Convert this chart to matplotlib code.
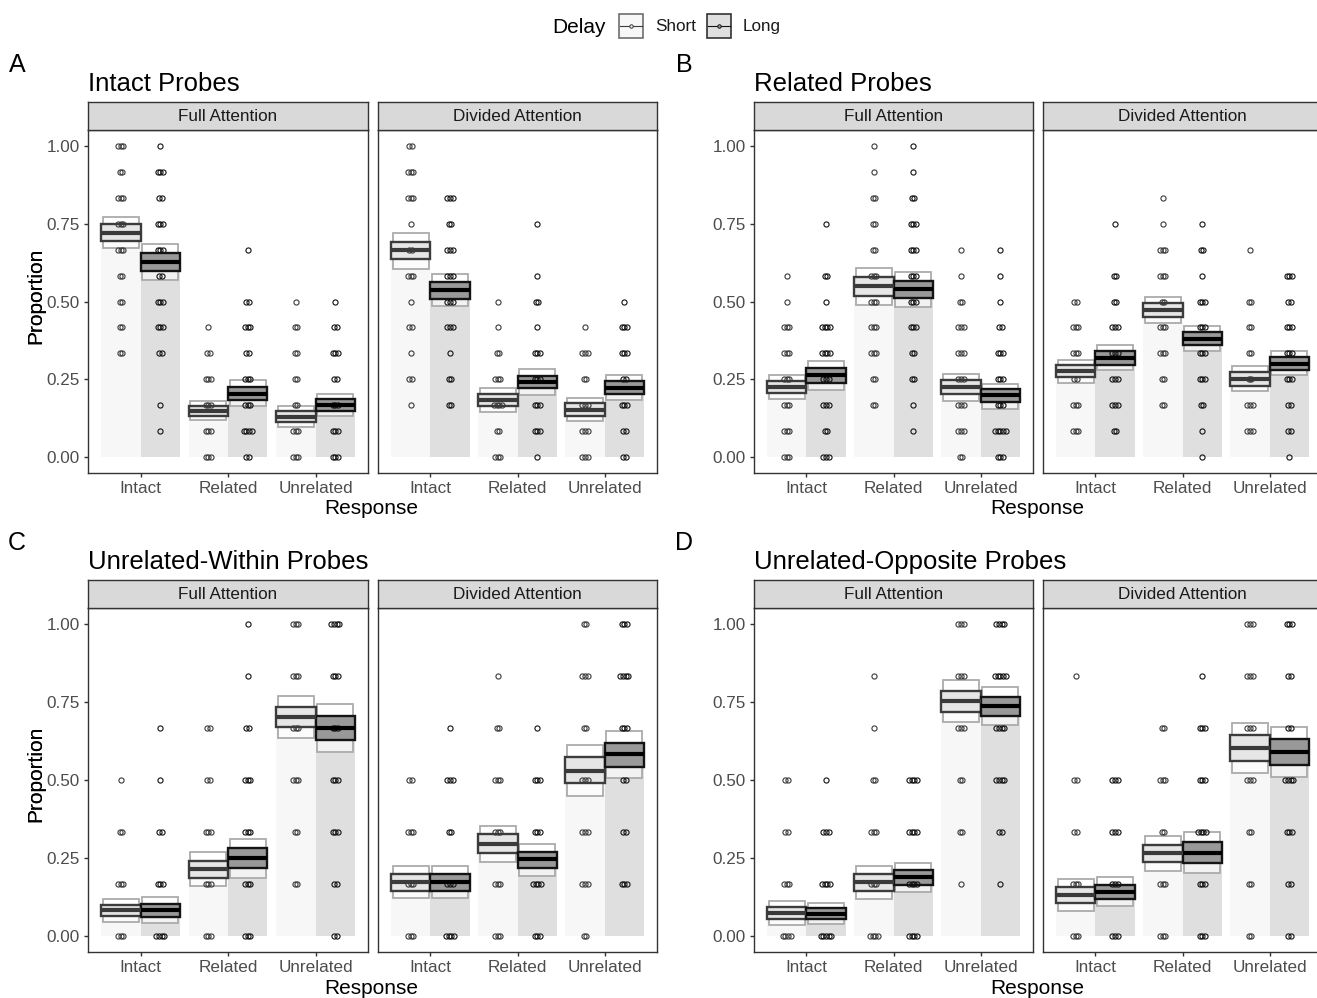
import numpy as np
import matplotlib
matplotlib.use("Agg")
import matplotlib.pyplot as plt
from matplotlib.patches import Rectangle

plt.rcParams['font.family'] = ['Liberation Sans', 'DejaVu Sans']

W, H = 1317, 998

responses = ["Intact", "Related", "Unrelated"]
delays = ["Short", "Long"]
attention = ["Full Attention", "Divided Attention"]
titles = ["Intact Probes", "Related Probes", "Unrelated-Within Probes", "Unrelated-Opposite Probes"]
letters = ["A", "B", "C", "D"]
yticks = [0.0, 0.25, 0.5, 0.75, 1.0]
ytick_labels = ["0.00", "0.25", "0.50", "0.75", "1.00"]

# order inside each facet: Intact-Short, Intact-Long, Related-Short, Related-Long, Unrelated-Short, Unrelated-Long
# ---- A: Intact probes (scores in steps of 1/12)
intact_mean = [[0.720, 0.626, 0.150, 0.204, 0.130, 0.168],
               [0.664, 0.536, 0.185, 0.242, 0.153, 0.224]]
intact_inner = [[(0.693, 0.747), (0.598, 0.654), (0.134, 0.166), (0.183, 0.226), (0.113, 0.148), (0.148, 0.187)],
                [(0.635, 0.692), (0.509, 0.561), (0.166, 0.203), (0.221, 0.262), (0.134, 0.173), (0.203, 0.244)]]
intact_outer = [[(0.670, 0.771), (0.570, 0.683), (0.119, 0.180), (0.166, 0.247), (0.097, 0.166), (0.134, 0.203)],
                [(0.604, 0.721), (0.486, 0.587), (0.147, 0.221), (0.201, 0.283), (0.116, 0.191), (0.185, 0.263)]]
intact_counts = [[[0, 0, 0, 0, 2, 2, 2, 2, 3, 3, 3, 2, 3],
                  [0, 1, 1, 0, 2, 3, 3, 2, 3, 3, 2, 3, 1],
                  [3, 3, 3, 3, 2, 1, 0, 0, 0, 0, 0, 0, 0],
                  [2, 4, 3, 3, 2, 3, 2, 0, 1, 0, 0, 0, 0],
                  [3, 3, 2, 2, 2, 2, 1, 0, 0, 0, 0, 0, 0],
                  [3, 3, 3, 2, 3, 2, 1, 0, 0, 0, 0, 0, 0]],
                 [[0, 0, 1, 2, 1, 2, 1, 3, 2, 1, 3, 3, 2],
                  [0, 0, 2, 2, 1, 3, 3, 3, 3, 2, 3, 0, 0],
                  [3, 2, 4, 3, 2, 1, 1, 0, 0, 0, 0, 0, 0],
                  [1, 3, 3, 3, 3, 1, 2, 1, 0, 1, 0, 0, 0],
                  [3, 3, 3, 2, 3, 1, 0, 0, 0, 0, 0, 0, 0],
                  [2, 2, 3, 2, 3, 3, 1, 0, 0, 0, 0, 0, 0]]]

# ---- B: Related probes (steps of 1/12)
related_mean = [[0.227, 0.263, 0.550, 0.541, 0.226, 0.199],
                [0.277, 0.318, 0.473, 0.381, 0.251, 0.300]]
related_inner = [[(0.207, 0.244), (0.239, 0.287), (0.518, 0.577), (0.512, 0.566), (0.204, 0.247), (0.178, 0.219)],
                 [(0.258, 0.295), (0.297, 0.340), (0.451, 0.494), (0.360, 0.403), (0.230, 0.273), (0.281, 0.321)]]
related_outer = [[(0.187, 0.265), (0.217, 0.310), (0.489, 0.609), (0.483, 0.595), (0.182, 0.268), (0.156, 0.236)],
                 [(0.239, 0.313), (0.279, 0.359), (0.432, 0.515), (0.340, 0.422), (0.212, 0.292), (0.263, 0.340)]]
related_counts = [[[3, 3, 3, 3, 3, 3, 1, 1, 0, 0, 0, 0, 0],
                   [3, 2, 3, 3, 4, 4, 1, 2, 0, 1, 0, 0, 0],
                   [0, 0, 2, 2, 3, 3, 3, 3, 2, 2, 2, 1, 1],
                   [0, 1, 1, 2, 2, 3, 3, 3, 3, 3, 2, 1, 1],
                   [2, 3, 3, 3, 3, 3, 2, 1, 1, 0, 0, 0, 0],
                   [3, 5, 3, 3, 3, 2, 1, 1, 1, 0, 0, 0, 0]],
                  [[0, 3, 3, 2, 3, 3, 2, 0, 0, 0, 0, 0, 0],
                   [0, 2, 3, 3, 3, 3, 2, 2, 0, 1, 0, 0, 0],
                   [0, 0, 2, 2, 3, 3, 2, 3, 3, 1, 1, 0, 0],
                   [1, 1, 2, 3, 3, 3, 3, 1, 2, 1, 0, 0, 0],
                   [0, 3, 3, 2, 2, 2, 2, 0, 1, 0, 0, 0, 0],
                   [1, 2, 2, 3, 3, 3, 2, 3, 0, 0, 0, 0, 0]]]

# ---- C: Unrelated-within probes (steps of 1/6)
within_mean = [[0.083, 0.083, 0.216, 0.250, 0.701, 0.667],
               [0.173, 0.173, 0.296, 0.246, 0.530, 0.582]]
within_inner = [[(0.065, 0.101), (0.063, 0.104), (0.187, 0.242), (0.219, 0.281), (0.668, 0.735), (0.629, 0.704)],
                [(0.146, 0.200), (0.146, 0.200), (0.266, 0.326), (0.219, 0.271), (0.490, 0.573), (0.543, 0.619)]]
within_outer = [[(0.047, 0.120), (0.044, 0.125), (0.160, 0.269), (0.187, 0.310), (0.635, 0.768), (0.590, 0.743)],
                [(0.123, 0.226), (0.123, 0.226), (0.237, 0.354), (0.194, 0.296), (0.448, 0.611), (0.506, 0.658)]]
within_counts = [[[3, 3, 2, 1, 0, 0, 0],
                  [4, 3, 2, 1, 1, 0, 0],
                  [3, 3, 3, 2, 2, 0, 0],
                  [3, 3, 3, 3, 2, 1, 1],
                  [0, 2, 2, 3, 3, 3, 3],
                  [2, 2, 3, 3, 3, 3, 4]],
                 [[3, 3, 3, 2, 0, 0, 0],
                  [4, 3, 2, 3, 1, 0, 0],
                  [3, 3, 3, 3, 2, 1, 0],
                  [3, 4, 3, 3, 1, 0, 0],
                  [2, 3, 3, 3, 2, 3, 2],
                  [0, 3, 2, 2, 3, 4, 3]]]

# ---- D: Unrelated-opposite probes (steps of 1/6)
opposite_mean = [[0.075, 0.073, 0.173, 0.189, 0.754, 0.736],
                 [0.132, 0.143, 0.265, 0.268, 0.603, 0.589]]
opposite_inner = [[(0.056, 0.093), (0.057, 0.090), (0.146, 0.200), (0.165, 0.213), (0.719, 0.786), (0.706, 0.767)],
                  [(0.107, 0.159), (0.120, 0.165), (0.237, 0.293), (0.236, 0.301), (0.561, 0.643), (0.547, 0.630)]]
opposite_outer = [[(0.036, 0.112), (0.040, 0.106), (0.120, 0.226), (0.143, 0.235), (0.685, 0.821), (0.677, 0.797)],
                  [(0.082, 0.182), (0.097, 0.189), (0.209, 0.321), (0.204, 0.334), (0.522, 0.683), (0.509, 0.669)]]
opposite_counts = [[[4, 3, 2, 2, 0, 0, 0],
                    [5, 4, 3, 1, 0, 0, 0],
                    [4, 3, 3, 2, 1, 1, 0],
                    [4, 4, 4, 4, 0, 0, 0],
                    [0, 1, 2, 2, 3, 3, 3],
                    [0, 1, 2, 4, 4, 5, 4]],
                   [[3, 3, 2, 2, 0, 1, 0],
                    [3, 3, 3, 3, 0, 0, 0],
                    [3, 3, 2, 3, 2, 0, 0],
                    [3, 3, 4, 3, 3, 1, 0],
                    [2, 2, 2, 3, 3, 3, 3],
                    [2, 2, 3, 4, 2, 2, 3]]]

panels = [
    (intact_mean, intact_inner, intact_outer, intact_counts, 12),
    (related_mean, related_inner, related_outer, related_counts, 12),
    (within_mean, within_inner, within_outer, within_counts, 6),
    (opposite_mean, opposite_inner, opposite_outer, opposite_counts, 6),
]

# styles
bar_col = ["#F7F7F7", "#DFDFDF"]
box_col = ["#E6E6E6", "#999999"]
edge_col = ["#3C3C3C", "#141414"]
mean_col = ["#3A3A3A", "#000000"]
pt_col = ["#3A3A3A", "#111111"]
tick_col = "#4D4D4D"
line_col = "#333333"

fig = plt.figure(figsize=(W / 100, H / 100), dpi=100)


def px_axes(x0, y0, x1, y1):
    return fig.add_axes([x0 / W, 1 - y1 / H, (x1 - x0) / W, (y1 - y0) / H])


def draw_facet(ax, means, inner, outer, counts, nlev):
    for j in range(6):
        r, d = j // 2, j % 2
        x = r + 1 + (-0.225 if d == 0 else 0.225)
        ax.bar(x, means[j], width=0.45, color=bar_col[d], zorder=1, linewidth=0)
        lo, hi = outer[j]
        ax.add_patch(Rectangle((x - 0.205, lo), 0.41, hi - lo, facecolor=(1, 1, 1, 0.6),
                               edgecolor="#ABABAB", lw=1.3, zorder=2))
        lo, hi = inner[j]
        ax.add_patch(Rectangle((x - 0.225, lo), 0.45, hi - lo, facecolor=box_col[d],
                               edgecolor=edge_col[d], lw=1.7, zorder=3))
        for k, n in enumerate(counts[j]):
            if n == 0:
                continue
            offs = (np.arange(n) - (n - 1) / 2) * 0.03
            ax.plot(x + offs, np.full(n, k / nlev), 'o', ms=3.7, mfc='none',
                    mec=pt_col[d], mew=0.8, zorder=4, clip_on=False)
        ax.plot([x - 0.225, x + 0.225], [means[j], means[j]], color=mean_col[d],
                lw=3.0, zorder=5, solid_capstyle='butt')
    ax.set_xlim(0.4, 3.6)
    ax.set_ylim(-0.05, 1.05)
    ax.set_xticks([1, 2, 3])
    ax.set_xticklabels(responses)
    ax.set_yticks(yticks)
    ax.tick_params(axis='both', length=3, width=1, color=line_col, labelcolor=tick_col,
                   labelsize=12.3, pad=3)
    for s in ax.spines.values():
        s.set_color(line_col)
        s.set_linewidth(1.0)


col_x = [[(88, 368), (378, 657)], [(754, 1033), (1043, 1322)]]
row_y = [(130, 473), (608, 952)]
strip_h = 28

for p, (means, inner, outer, counts, nlev) in enumerate(panels):
    row, col = p // 2, p % 2
    y0, y1 = row_y[row]
    for f in range(2):
        x0, x1 = col_x[col][f]
        ax = px_axes(x0, y0, x1, y1)
        draw_facet(ax, means[f], inner[f], outer[f], counts[f], nlev)
        if f == 0:
            ax.set_yticklabels(ytick_labels)
        else:
            ax.tick_params(axis='y', left=False, labelleft=False)
        sax = px_axes(x0, y0 - strip_h, x1, y0)
        sax.set_facecolor("#D9D9D9")
        sax.set_xticks([])
        sax.set_yticks([])
        for s in sax.spines.values():
            s.set_color(line_col)
            s.set_linewidth(1.0)
        sax.text(0.5, 0.48, attention[f], ha='center', va='center', fontsize=12.3,
                 color="#1A1A1A", transform=sax.transAxes)
    xl = col_x[col][0][0]
    fig.text(xl / W, 1 - (y0 - strip_h - 18) / H, titles[p], fontsize=18.5, ha='left', va='center')
    fig.text((17 + 667 * col) / W, 1 - (y0 - strip_h - 37) / H, letters[p], fontsize=18,
             ha='center', va='center')
    fig.text(36 / W, 1 - ((y0 + y1) / 2 - 6) / H, "Proportion", fontsize=15, rotation=90,
             ha='center', va='center')
    fig.text(((xl + col_x[col][1][1]) / 2 - 1) / W, 1 - (y1 + 36) / H, "Response", fontsize=15,
             ha='center', va='center')

# legend drawn on an overlay in pixel coordinates
lax = fig.add_axes([0, 0, 1, 1], zorder=10)
lax.set_xlim(0, W)
lax.set_ylim(H, 0)
lax.axis('off')
lax.text(579, 27, "Delay", fontsize=15, ha='center', va='center')
key_x = [619, 707]
key_edge = ["#6E6E6E", "#333333"]
for d in range(2):
    kx = key_x[d]
    lax.add_patch(Rectangle((kx, 14), 24, 24, facecolor=bar_col[d], edgecolor=key_edge[d], lw=1.2))
    lax.plot([kx + 1, kx + 23], [26, 26], color=edge_col[d], lw=0.8)
    lax.plot([kx + 12], [26], 'o', ms=2.5, mfc=box_col[d], mec=edge_col[d], mew=0.7)
    lax.text(kx + 36, 26, delays[d], fontsize=12.3, ha='left', va='center', color="#1A1A1A")

fig.savefig("out.png", dpi=100)
